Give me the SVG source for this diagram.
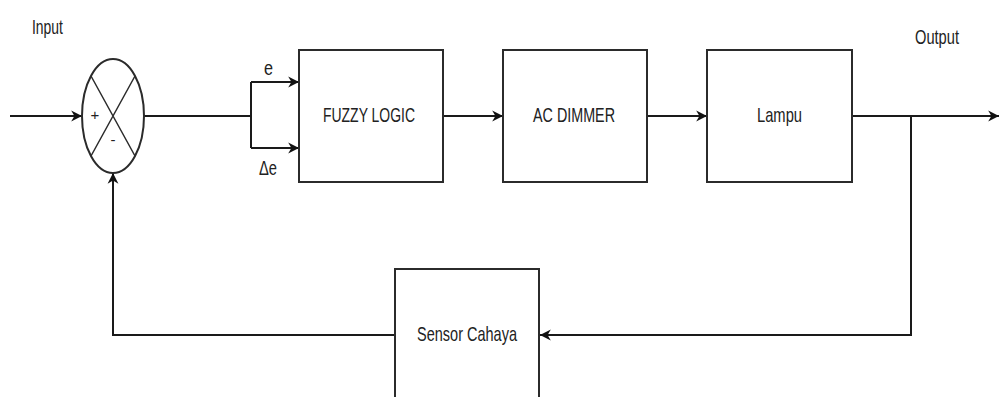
<svg xmlns="http://www.w3.org/2000/svg" width="1000" height="397" viewBox="0 0 1000 397">
<style>
.box{fill:#fff;stroke:#2b2b2b;stroke-width:2}
.ln{fill:none;stroke:#1a1a1a;stroke-width:2}
.t{font-family:"Liberation Sans",Arial,sans-serif;font-size:21px;fill:#222}
.s{font-family:"Liberation Sans",Arial,sans-serif;font-size:15px;fill:#222}
</style>
<defs>
<marker id="ar" markerUnits="userSpaceOnUse" markerWidth="13" markerHeight="13" viewBox="0 0 12 12" refX="11" refY="6" orient="auto">
<path d="M1,1 L11,6 L1,11 L4,6 Z" fill="#111"/>
</marker>
</defs>
<rect width="1000" height="397" fill="#fff"/>
<g id="connectors">
<path class="ln" d="M10,116 L82,116" marker-end="url(#ar)"/>
<path class="ln" d="M144,116 L251,116 M251,82 L251,148"/>
<path class="ln" d="M251,82 L299,82" marker-end="url(#ar)"/>
<path class="ln" d="M251,148 L299,148" marker-end="url(#ar)"/>
<path class="ln" d="M443,116 L503,116" marker-end="url(#ar)"/>
<path class="ln" d="M647,116 L707,116" marker-end="url(#ar)"/>
<path class="ln" d="M852,116 L999,116" marker-end="url(#ar)"/>
<path class="ln" d="M911,116 L911,335 L540,335" marker-end="url(#ar)"/>
<path class="ln" d="M395,335 L113,335 L113,173" marker-end="url(#ar)"/>
</g>
<g id="labels">
<text class="t" x="32" y="34" textLength="31" lengthAdjust="spacingAndGlyphs">Input</text>
<text class="t" x="915" y="44" textLength="44" lengthAdjust="spacingAndGlyphs">Output</text>
<text class="t" x="264" y="75" textLength="9" lengthAdjust="spacingAndGlyphs">e</text>
<text class="t" x="259" y="175" textLength="18" lengthAdjust="spacingAndGlyphs">Δe</text>
</g>
<g id="sum">
<ellipse cx="113" cy="116" rx="31" ry="57" fill="#fff" stroke="#2b2b2b" stroke-width="2"/>
<path d="M91,76 L135,156 M135,76 L91,156" stroke="#2b2b2b" stroke-width="1.5" fill="none"/>
<text class="s" x="95" y="120" text-anchor="middle">+</text>
<text class="s" x="113" y="145" text-anchor="middle">-</text>
</g>
<g id="fuzzy">
<rect class="box" x="299" y="50" width="144" height="132"/>
<text class="t" x="323" y="122" textLength="92" lengthAdjust="spacingAndGlyphs">FUZZY LOGIC</text>
</g>
<g id="dimmer">
<rect class="box" x="503" y="50" width="144" height="132"/>
<text class="t" x="533" y="122" textLength="82" lengthAdjust="spacingAndGlyphs">AC DIMMER</text>
</g>
<g id="lampu">
<rect class="box" x="707" y="50" width="145" height="132"/>
<text class="t" x="757" y="122" textLength="45" lengthAdjust="spacingAndGlyphs">Lampu</text>
</g>
<g id="sensor">
<rect class="box" x="395" y="269" width="144" height="140"/>
<text class="t" x="417" y="341" textLength="100" lengthAdjust="spacingAndGlyphs">Sensor Cahaya</text>
</g>
</svg>
